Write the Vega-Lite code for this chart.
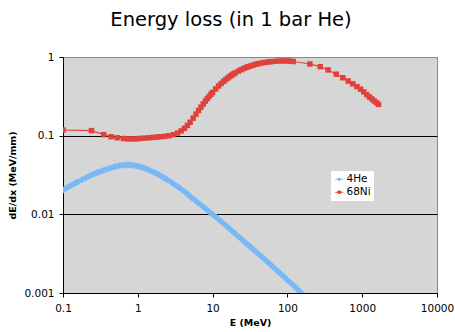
{
  "$schema": "https://vega.github.io/schema/vega-lite/v6.json",
  "width": 374,
  "height": 236,
  "autosize": {"type": "none"},
  "padding": {"left": 63, "top": 57, "right": 18, "bottom": 39},
  "background": "white",
  "title": {"text": "Energy loss (in 1 bar He)", "font": "DejaVu Sans", "fontSize": 19.5, "fontWeight": "normal", "color": "#000", "anchor": "middle", "dx": -19, "offset": 22},
  "config": {
    "view": {"fill": "#d6d6d6", "stroke": "#8a8a8a", "strokeWidth": 1},
    "axis": {"labelFont": "DejaVu Sans", "labelFontSize": 10.5, "labelColor": "#000", "titleFont": "DejaVu Sans", "titleFontSize": 9.5, "titleFontWeight": "bold", "titleColor": "#000", "domainColor": "#000", "tickColor": "#000", "tickSize": 4}
  },
  "data": {"values": [
    {"series":"4He","E":0.1,"dEdx":0.0204},{"series":"4He","E":0.11,"dEdx":0.0215},{"series":"4He","E":0.12,"dEdx":0.0225},{"series":"4He","E":0.13,"dEdx":0.0235},{"series":"4He","E":0.14,"dEdx":0.0244},{"series":"4He","E":0.15,"dEdx":0.0253},{"series":"4He","E":0.16,"dEdx":0.0261},{"series":"4He","E":0.18,"dEdx":0.0276},{"series":"4He","E":0.2,"dEdx":0.029},{"series":"4He","E":0.22,"dEdx":0.0303},{"series":"4He","E":0.24,"dEdx":0.0315},{"series":"4He","E":0.26,"dEdx":0.0326},{"series":"4He","E":0.28,"dEdx":0.0336},{"series":"4He","E":0.3,"dEdx":0.0345},{"series":"4He","E":0.33,"dEdx":0.0357},{"series":"4He","E":0.36,"dEdx":0.0367},{"series":"4He","E":0.4,"dEdx":0.0379},{"series":"4He","E":0.44,"dEdx":0.0391},{"series":"4He","E":0.48,"dEdx":0.04},{"series":"4He","E":0.52,"dEdx":0.0408},{"series":"4He","E":0.57,"dEdx":0.0415},{"series":"4He","E":0.62,"dEdx":0.042},{"series":"4He","E":0.68,"dEdx":0.0423},{"series":"4He","E":0.74,"dEdx":0.0424},{"series":"4He","E":0.8,"dEdx":0.0423},{"series":"4He","E":0.87,"dEdx":0.042},{"series":"4He","E":0.95,"dEdx":0.0414},{"series":"4He","E":1.03,"dEdx":0.0407},{"series":"4He","E":1.12,"dEdx":0.0397},{"series":"4He","E":1.22,"dEdx":0.0386},{"series":"4He","E":1.33,"dEdx":0.0374},{"series":"4He","E":1.45,"dEdx":0.0362},{"series":"4He","E":1.6,"dEdx":0.0347},{"series":"4He","E":1.75,"dEdx":0.0333},{"series":"4He","E":1.9,"dEdx":0.0319},{"series":"4He","E":2.1,"dEdx":0.0302},{"series":"4He","E":2.3,"dEdx":0.0287},{"series":"4He","E":2.5,"dEdx":0.0274},{"series":"4He","E":2.75,"dEdx":0.0259},{"series":"4He","E":3,"dEdx":0.0246},{"series":"4He","E":3.3,"dEdx":0.023},{"series":"4He","E":3.6,"dEdx":0.0218},{"series":"4He","E":4,"dEdx":0.0201},{"series":"4He","E":4.4,"dEdx":0.0189},{"series":"4He","E":4.8,"dEdx":0.0175},{"series":"4He","E":5.3,"dEdx":0.0161},{"series":"4He","E":5.8,"dEdx":0.0151},{"series":"4He","E":6.4,"dEdx":0.014},{"series":"4He","E":7,"dEdx":0.0131},{"series":"4He","E":7.7,"dEdx":0.0122},{"series":"4He","E":8.5,"dEdx":0.0113},{"series":"4He","E":9.3,"dEdx":0.0105},{"series":"4He","E":10.2,"dEdx":0.00984},{"series":"4He","E":11.2,"dEdx":0.00914},{"series":"4He","E":12.3,"dEdx":0.00847},{"series":"4He","E":13.5,"dEdx":0.00787},{"series":"4He","E":15,"dEdx":0.00722},{"series":"4He","E":16.5,"dEdx":0.00667},{"series":"4He","E":18,"dEdx":0.00621},{"series":"4He","E":20,"dEdx":0.00569},{"series":"4He","E":22,"dEdx":0.00526},{"series":"4He","E":24,"dEdx":0.0049},{"series":"4He","E":26.5,"dEdx":0.00451},{"series":"4He","E":29,"dEdx":0.00419},{"series":"4He","E":32,"dEdx":0.00385},{"series":"4He","E":35,"dEdx":0.00358},{"series":"4He","E":38.5,"dEdx":0.00331},{"series":"4He","E":42,"dEdx":0.00308},{"series":"4He","E":46,"dEdx":0.00286},{"series":"4He","E":51,"dEdx":0.00261},{"series":"4He","E":56,"dEdx":0.00242},{"series":"4He","E":61,"dEdx":0.00225},{"series":"4He","E":67,"dEdx":0.00207},{"series":"4He","E":74,"dEdx":0.0019},{"series":"4He","E":81,"dEdx":0.00176},{"series":"4He","E":89,"dEdx":0.00162},{"series":"4He","E":98,"dEdx":0.00149},{"series":"4He","E":108,"dEdx":0.00137},{"series":"4He","E":118,"dEdx":0.00127},{"series":"4He","E":130,"dEdx":0.00117},{"series":"4He","E":143,"dEdx":0.00107},{"series":"4He","E":155,"dEdx":0.001},
    {"series":"68Ni","E":0.1,"dEdx":0.118},{"series":"68Ni","E":0.24,"dEdx":0.116},{"series":"68Ni","E":0.35,"dEdx":0.103},{"series":"68Ni","E":0.44,"dEdx":0.097},{"series":"68Ni","E":0.53,"dEdx":0.094},{"series":"68Ni","E":0.64,"dEdx":0.092},{"series":"68Ni","E":0.74,"dEdx":0.091},{"series":"68Ni","E":0.84,"dEdx":0.091},{"series":"68Ni","E":0.94,"dEdx":0.091},{"series":"68Ni","E":1.04,"dEdx":0.092},{"series":"68Ni","E":1.2,"dEdx":0.093},{"series":"68Ni","E":1.4,"dEdx":0.094},{"series":"68Ni","E":1.6,"dEdx":0.095},{"series":"68Ni","E":1.8,"dEdx":0.096},{"series":"68Ni","E":2,"dEdx":0.097},{"series":"68Ni","E":2.3,"dEdx":0.098},{"series":"68Ni","E":2.6,"dEdx":0.1},{"series":"68Ni","E":3,"dEdx":0.103},{"series":"68Ni","E":3.4,"dEdx":0.108},{"series":"68Ni","E":3.8,"dEdx":0.115},{"series":"68Ni","E":4.2,"dEdx":0.124},{"series":"68Ni","E":4.6,"dEdx":0.135},{"series":"68Ni","E":5,"dEdx":0.148},{"series":"68Ni","E":5.5,"dEdx":0.167},{"series":"68Ni","E":6,"dEdx":0.188},{"series":"68Ni","E":6.5,"dEdx":0.209},{"series":"68Ni","E":7,"dEdx":0.231},{"series":"68Ni","E":7.5,"dEdx":0.253},{"series":"68Ni","E":8,"dEdx":0.275},{"series":"68Ni","E":8.5,"dEdx":0.296},{"series":"68Ni","E":9,"dEdx":0.316},{"series":"68Ni","E":9.5,"dEdx":0.336},{"series":"68Ni","E":10,"dEdx":0.355},{"series":"68Ni","E":11,"dEdx":0.393},{"series":"68Ni","E":12,"dEdx":0.428},{"series":"68Ni","E":13,"dEdx":0.46},{"series":"68Ni","E":14,"dEdx":0.489},{"series":"68Ni","E":15,"dEdx":0.516},{"series":"68Ni","E":16,"dEdx":0.542},{"series":"68Ni","E":17,"dEdx":0.566},{"series":"68Ni","E":18,"dEdx":0.588},{"series":"68Ni","E":19,"dEdx":0.608},{"series":"68Ni","E":20,"dEdx":0.627},{"series":"68Ni","E":22,"dEdx":0.66},{"series":"68Ni","E":24,"dEdx":0.689},{"series":"68Ni","E":26,"dEdx":0.713},{"series":"68Ni","E":28,"dEdx":0.734},{"series":"68Ni","E":30,"dEdx":0.752},{"series":"68Ni","E":32,"dEdx":0.768},{"series":"68Ni","E":35,"dEdx":0.79},{"series":"68Ni","E":38,"dEdx":0.808},{"series":"68Ni","E":41,"dEdx":0.823},{"series":"68Ni","E":45,"dEdx":0.84},{"series":"68Ni","E":50,"dEdx":0.853},{"series":"68Ni","E":55,"dEdx":0.864},{"series":"68Ni","E":60,"dEdx":0.872},{"series":"68Ni","E":70,"dEdx":0.884},{"series":"68Ni","E":80,"dEdx":0.89},{"series":"68Ni","E":90,"dEdx":0.892},{"series":"68Ni","E":100,"dEdx":0.89},{"series":"68Ni","E":110,"dEdx":0.885},{"series":"68Ni","E":120,"dEdx":0.876},{"series":"68Ni","E":200,"dEdx":0.815},{"series":"68Ni","E":275,"dEdx":0.753},{"series":"68Ni","E":350,"dEdx":0.685},{"series":"68Ni","E":450,"dEdx":0.605},{"series":"68Ni","E":550,"dEdx":0.545},{"series":"68Ni","E":650,"dEdx":0.495},{"series":"68Ni","E":750,"dEdx":0.455},{"series":"68Ni","E":850,"dEdx":0.42},{"series":"68Ni","E":950,"dEdx":0.39},{"series":"68Ni","E":1050,"dEdx":0.36},{"series":"68Ni","E":1150,"dEdx":0.332},{"series":"68Ni","E":1250,"dEdx":0.31},{"series":"68Ni","E":1350,"dEdx":0.292},{"series":"68Ni","E":1450,"dEdx":0.276},{"series":"68Ni","E":1550,"dEdx":0.263},{"series":"68Ni","E":1650,"dEdx":0.25}
  ]},
  "encoding": {
    "x": {"field": "E", "type": "quantitative", "title": "E (MeV)",
      "scale": {"type": "log", "domain": [0.1, 10000], "nice": false},
      "axis": {"values": [0.1, 1, 10, 100, 1000, 10000], "format": "~g", "grid": false, "labelPadding": 6, "titlePadding": 4, "labelFlush": false}},
    "y": {"field": "dEdx", "type": "quantitative", "title": "dE/dx (MeV/mm)",
      "scale": {"type": "log", "domain": [0.001, 1], "nice": false},
      "axis": {"values": [0.001, 0.01, 0.1, 1], "format": "~g", "grid": true, "gridColor": {"condition": {"test": "datum.value == 1", "value": "#8a8a8a"}, "value": "#000"}, "gridOpacity": 1, "gridWidth": 1, "labelPadding": 5, "titlePadding": 6, "labelFlush": false}},
    "color": {"field": "series", "type": "nominal", "title": null,
      "scale": {"domain": ["4He", "68Ni"], "range": ["#78b8f6", "#e1413b"]},
      "legend": {"orient": "none", "legendX": 268, "legendY": 114, "fillColor": "white", "padding": 3, "rowPadding": 2, "labelFont": "DejaVu Sans", "labelFontSize": 10.5, "labelColor": "#000", "symbolSize": 64, "labelOffset": 2,
        "encode": {"symbols": {"update": {
          "shape": {"signal": "datum.value === '4He' ? 'M-1,0H1M0,-0.38L0.38,0L0,0.38L-0.38,0Z' : 'M-1,0H1M-0.3,-0.3H0.3V0.3H-0.3Z'"},
          "fill": {"signal": "datum.value === '4He' ? '#78b8f6' : '#e1413b'"},
          "stroke": {"signal": "datum.value === '4He' ? '#78b8f6' : '#e1413b'"},
          "strokeWidth": {"value": 1},
          "opacity": {"value": 1}, "fillOpacity": {"value": 1}}}}}
    }
  },
  "layer": [
    {"mark": {"type": "line", "strokeWidth": 1.2, "clip": true}, "encoding": {"detail": {"field": "series"}}},
    {"transform": [{"filter": "datum.series === '4He'"}],
     "mark": {"type": "point", "shape": "diamond", "filled": true, "opacity": 1, "size": 52, "clip": true}},
    {"transform": [{"filter": "datum.series === '68Ni'"}],
     "mark": {"type": "point", "shape": "square", "filled": true, "opacity": 1, "size": 30, "clip": true}}
  ]
}
